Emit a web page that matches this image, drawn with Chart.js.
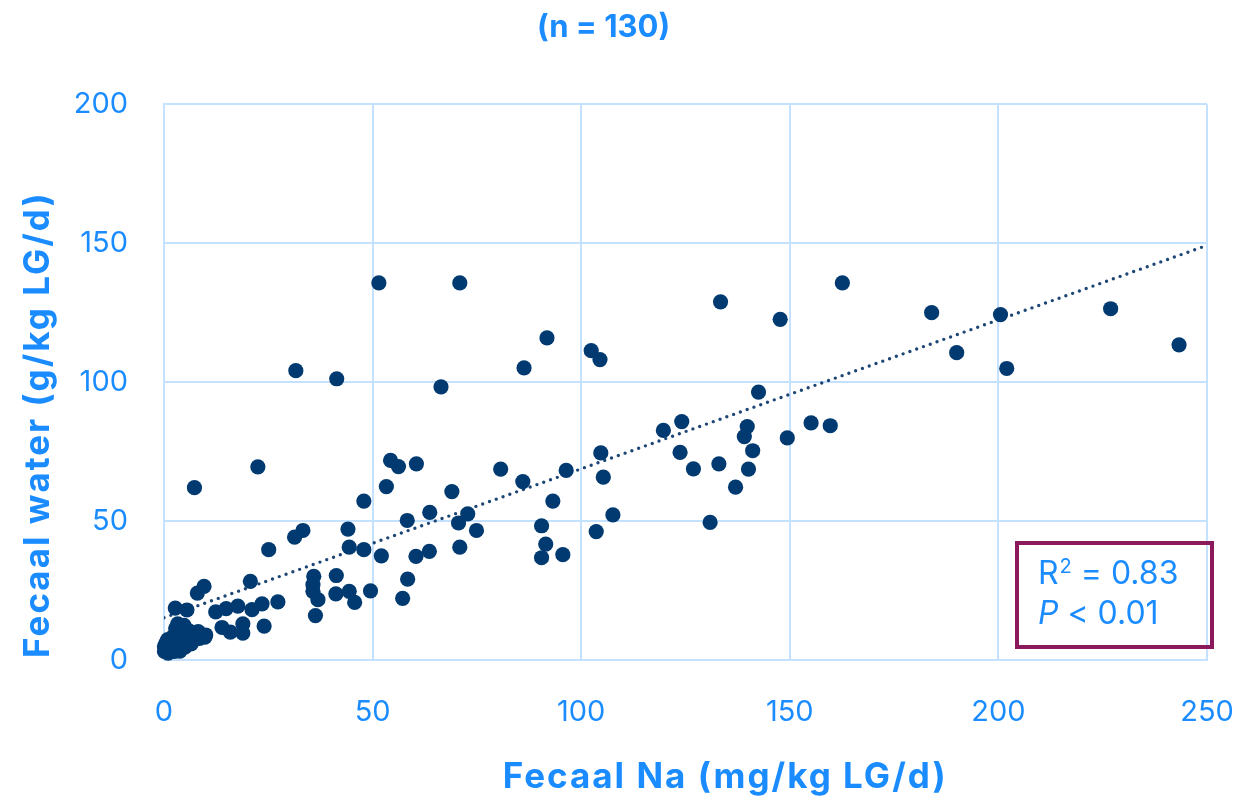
<!DOCTYPE html>
<html>
<head>
<meta charset="utf-8">
<script src="https://cdn.jsdelivr.net/npm/chart.js@4"></script>
<style>
  html, body { margin: 0; padding: 0; background: #ffffff; }
  #wrap { position: relative; width: 1241px; height: 802px; }
</style>
</head>
<body>
<div id="wrap"><canvas id="c" width="1241" height="802"></canvas></div>
<script>
// ---------------- data ----------------
const fecalNa = [
  31.6, 41.4, 51.5, 70.9, 66.4, 86.3, 91.8, 102.4, 104.5, 133.4, 147.7, 162.6, 184.0, 190.0, 200.5, 202.0, 226.9, 243.3, 142.5, 22.5, 7.3,
  54.3, 56.2, 60.5, 53.3, 47.9, 44.1, 33.3, 31.3, 44.4, 47.9, 52.1, 58.3, 63.7, 69.0, 70.6, 72.8, 74.9, 70.9, 60.4, 63.6,
  58.4, 57.2, 49.5, 41.3, 41.2, 44.4, 45.7, 35.9, 35.7, 35.7, 36.9, 36.3, 27.3, 80.7, 86.0, 96.4, 93.2, 90.5, 91.5, 90.5,
  95.6, 104.7, 105.3, 107.6, 103.6, 119.7, 124.1, 139.8, 139.1, 123.7, 126.9, 133.0, 141.1, 140.1, 137.0, 149.4, 155.1, 159.7, 130.9, 25.1,
  9.6, 8.0, 20.7, 2.7, 5.5, 12.4, 14.9, 17.7, 21.1, 23.5,
  13.9, 15.9, 18.9, 18.9, 24.0, 3.3, 3.7, 6.0, 7.7, 9.1, 0.9, 0.1, 1.7, 4.1, 5.7, 7.3, 0.1, 2.5,
  1.2, 2.0, 3.0, 3.5, 4.5, 5.0, 6.5, 8.5, 9.8, 2.2, 4.8, 1.0, 0.5, 3.8, 6.8, 2.8, 10.0, 1.5, 4.4, 0.3, 8.2
];
const fecalWater = [
  104.1, 101.2, 135.7, 135.7, 98.3, 105.1, 115.9, 111.3, 108.1, 128.9, 122.6, 135.7, 125.0, 110.6, 124.3, 104.9, 126.4, 113.4, 96.4, 69.5, 62.0,
  71.8, 69.6, 70.6, 62.4, 57.2, 47.1, 46.6, 44.2, 40.6, 39.7, 37.5, 50.2, 53.1, 60.6, 49.3, 52.6, 46.6, 40.6, 37.3, 39.1,
  29.1, 22.2, 24.9, 30.4, 23.8, 24.7, 20.7, 30.1, 27.1, 24.7, 21.7, 16.0, 20.9, 68.7, 64.2, 68.2, 57.2, 48.3, 41.7, 36.8,
  37.9, 74.5, 65.8, 52.2, 46.2, 82.6, 85.8, 84.0, 80.4, 74.7, 68.8, 70.6, 75.3, 68.7, 62.2, 79.9, 85.3, 84.3, 49.5, 39.7,
  26.5, 24.1, 28.3, 18.7, 18.0, 17.3, 18.5, 19.4, 18.1, 20.2,
  11.7, 10.0, 13.0, 9.7, 12.2, 13.0, 10.9, 10.5, 9.7, 8.8, 7.3, 4.9, 4.3, 5.5, 6.7, 7.3, 3.1, 3.1,
  5.8, 6.5, 4.0, 7.0, 8.2, 4.6, 5.8, 7.8, 8.2, 8.5, 12.5, 2.5, 6.2, 3.2, 8.9, 11.4, 9.0, 3.6, 9.6, 4.0, 10.2
];
const trendNa = [0, 250];
const trendWater = [15.2, 149.2];
const xTickValues = [0, 50, 100, 150, 200, 250];
const yTickValues = [0, 50, 100, 150, 200];
const chartTitle = '(n = 130)';
const xAxisTitle = 'Fecaal Na (mg/kg LG/d)';
const yAxisTitle = 'Fecaal water (g/kg LG/d)';
const statR2 = '0.83';
const statP = '0.01';

// ---------------- styles ----------------
const BLUE = '#1a8cff';
const GRID = '#c4e1ff';
const NAVY = '#013a70';
const DOT = '#1d4675';
const BOX = '#8b1a5c';
const FONT = 'Inter';

const scatterData = fecalNa.map((x, i) => ({ x: x, y: fecalWater[i] }));
const trendData = trendNa.map((x, i) => ({ x: x, y: trendWater[i] }));

const extras = {
  id: 'extras',
  afterDraw(chart) {
    const ctx = chart.ctx;
    const a = chart.chartArea;
    ctx.save();
    ctx.fillStyle = BLUE;
    ctx.font = 'bold 35px ' + FONT;
    ctx.letterSpacing = '2px';
    // x-axis title
    ctx.textAlign = 'center';
    ctx.textBaseline = 'middle';
    ctx.fillText(xAxisTitle, a.left + (a.right - a.left) * 0.538, 777);
    // y-axis title (rotated, starting at the bottom of the plot)
    ctx.save();
    ctx.translate(38, a.bottom - 2);
    ctx.rotate(-Math.PI / 2);
    ctx.textAlign = 'left';
    ctx.fillText(yAxisTitle, 0, 0);
    ctx.restore();
    ctx.letterSpacing = '0px';

    // stats box
    const bx = a.right - 190, by = a.bottom - 117, bw = 195, bh = 104;
    ctx.strokeStyle = BOX;
    ctx.lineWidth = 4;
    ctx.strokeRect(bx, by, bw, bh);

    ctx.textAlign = 'left';
    ctx.textBaseline = 'alphabetic';
    ctx.fillStyle = BLUE;
    let tx = bx + 21;
    let ty = by + 41;
    ctx.font = '32px ' + FONT;
    ctx.fillText('R', tx, ty);
    tx += ctx.measureText('R').width + 1;
    ctx.font = '20px ' + FONT;
    ctx.fillText('2', tx, ty - 11);
    tx += ctx.measureText('2').width;
    ctx.font = '32px ' + FONT;
    ctx.fillText(' = ' + statR2, tx, ty);

    tx = bx + 21;
    ty = by + 81;
    ctx.font = 'italic 32px ' + FONT;
    ctx.fillText('P', tx, ty);
    tx += ctx.measureText('P').width;
    ctx.font = '32px ' + FONT;
    ctx.fillText(' < ' + statP, tx, ty);
    ctx.restore();
  }
};

new Chart(document.getElementById('c'), {
  type: 'scatter',
  data: {
    datasets: [
      {
        label: 'Fecaal water',
        data: scatterData,
        backgroundColor: NAVY,
        borderColor: NAVY,
        borderWidth: 0,
        pointRadius: 7.6,
        pointHoverRadius: 7.6,
        clip: false
      },
      {
        label: 'Trend',
        data: trendData,
        showLine: true,
        borderColor: DOT,
        borderWidth: 3.4,
        borderDash: [0, 7.2],
        borderCapStyle: 'round',
        pointRadius: 0,
        pointHoverRadius: 0,
        fill: false,
        tension: 0
      }
    ]
  },
  options: {
    responsive: false,
    devicePixelRatio: 1,
    animation: false,
    layout: { padding: { left: 0, right: 34, top: 0, bottom: 0 } },
    plugins: {
      legend: { display: false },
      tooltip: { enabled: false },
      title: {
        display: true,
        text: chartTitle,
        color: BLUE,
        font: { family: FONT, size: 31, weight: 'bold' },
        padding: { top: 9, bottom: 58 }
      }
    },
    scales: {
      x: {
        type: 'linear',
        min: 0,
        max: 250,
        afterBuildTicks: s => { s.ticks = xTickValues.map(v => ({ value: v })); },
        afterFit: s => { s.height = 142; s.paddingLeft = 0; s.paddingRight = 0; },
        grid: { color: GRID, lineWidth: 2, drawTicks: false },
        border: { color: GRID, width: 2 },
        ticks: { color: BLUE, font: { family: FONT, size: 29 }, padding: 35, maxRotation: 0 }
      },
      y: {
        type: 'linear',
        min: 0,
        max: 200,
        afterBuildTicks: s => { s.ticks = yTickValues.map(v => ({ value: v })); },
        afterFit: s => { s.width = 164; },
        grid: { color: GRID, lineWidth: 2, drawTicks: false },
        border: { color: GRID, width: 2 },
        ticks: { color: BLUE, font: { family: FONT, size: 29 }, padding: 36 }
      }
    }
  },
  plugins: [extras]
});
</script>
</body>
</html>
